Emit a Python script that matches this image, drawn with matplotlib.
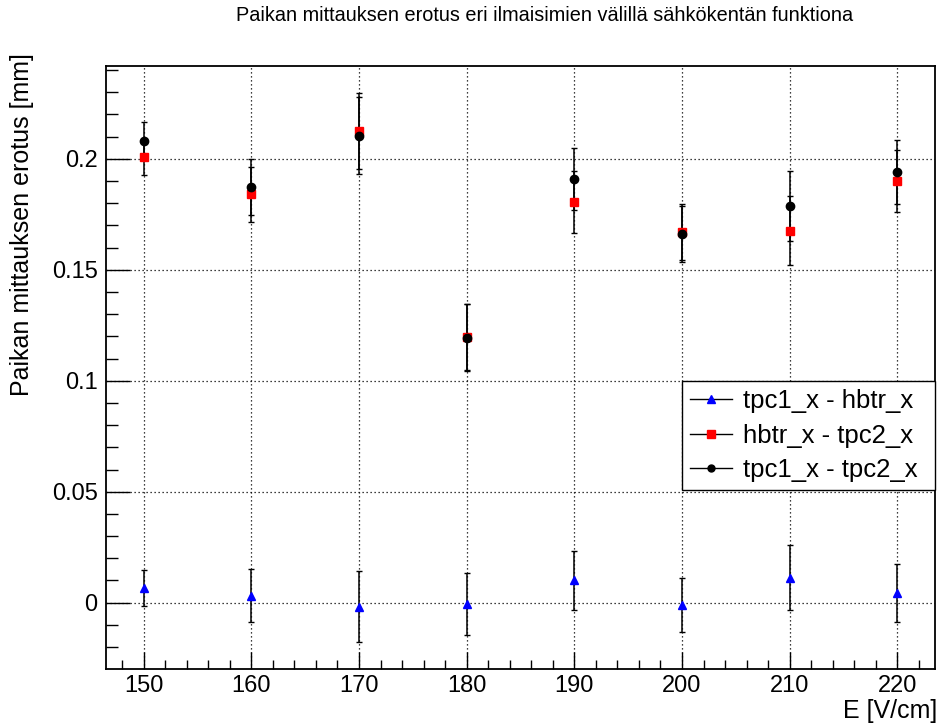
import matplotlib
matplotlib.use('Agg')
import matplotlib.pyplot as plt
from matplotlib.lines import Line2D
from matplotlib.ticker import MultipleLocator, FuncFormatter

plt.rcParams['font.family'] = ['Liberation Sans', 'DejaVu Sans']

# electric field values [V/cm]
E = [150, 160, 170, 180, 190, 200, 210, 220]

# position difference between detectors [mm] and their errors
tpc1_hbtr = [0.0066, 0.0032, -0.0018, -0.0006, 0.0102, -0.0010, 0.0113, 0.0042]
tpc1_hbtr_err = [0.0080, 0.0121, 0.0160, 0.0140, 0.0133, 0.0123, 0.0148, 0.0130]

hbtr_tpc2 = [0.2009, 0.1840, 0.2125, 0.1197, 0.1806, 0.1670, 0.1676, 0.1900]
hbtr_tpc2_err = [0.0082, 0.0124, 0.0172, 0.0150, 0.0139, 0.0127, 0.0156, 0.0140]

tpc1_tpc2 = [0.2080, 0.1873, 0.2105, 0.1194, 0.1909, 0.1662, 0.1788, 0.1941]
tpc1_tpc2_err = [0.0084, 0.0124, 0.0172, 0.0150, 0.0138, 0.0127, 0.0158, 0.0143]

labels = ['tpc1_x - hbtr_x', 'hbtr_x - tpc2_x', 'tpc1_x - tpc2_x']

fig = plt.figure(figsize=(9.42, 7.26), dpi=100)
ax = fig.add_axes([0.1125, 0.0785, 0.8801, 0.8305])

err_kw = dict(fmt='none', ecolor='black', elinewidth=1.1, capsize=2.0, capthick=1.0, zorder=3)
ax.errorbar(E, tpc1_hbtr, yerr=tpc1_hbtr_err, **err_kw)
ax.errorbar(E, hbtr_tpc2, yerr=hbtr_tpc2_err, **err_kw)
ax.errorbar(E, tpc1_tpc2, yerr=tpc1_tpc2_err, **err_kw)
ax.plot(E, tpc1_hbtr, ls='none', marker='^', ms=6, color='blue', mec='blue', zorder=4)
ax.plot(E, hbtr_tpc2, ls='none', marker='s', ms=5.3, color='red', mec='red', zorder=4)
ax.plot(E, tpc1_tpc2, ls='none', marker='o', ms=6, color='black', mec='black', zorder=5)

ax.set_xlim(146.5, 223.5)
ax.set_ylim(-0.0299, 0.2418)

ax.xaxis.set_major_locator(MultipleLocator(10))
ax.xaxis.set_minor_locator(MultipleLocator(2))
ax.yaxis.set_major_locator(MultipleLocator(0.05))
ax.yaxis.set_minor_locator(MultipleLocator(0.01))
ax.yaxis.set_major_formatter(FuncFormatter(lambda v, p: '%g' % round(v, 3)))

ax.tick_params(axis='both', which='both', direction='in', top=False, right=False,
               labelsize=17, width=1.0, color='black')
ax.tick_params(axis='x', which='major', length=12, pad=4.5)
ax.tick_params(axis='x', which='minor', length=6.5)
ax.tick_params(axis='y', which='major', length=17, pad=6)
ax.tick_params(axis='y', which='minor', length=8.5)

for s in ax.spines.values():
    s.set_linewidth(1.3)

ax.grid(True, which='major', color='black', linestyle=(0, (1, 2.2)), linewidth=0.9)
ax.set_axisbelow(True)

handles = [
    Line2D([], [], color='black', lw=1, marker='^', ms=6, mfc='blue', mec='blue'),
    Line2D([], [], color='black', lw=1, marker='s', ms=5.3, mfc='red', mec='red'),
    Line2D([], [], color='black', lw=1, marker='o', ms=5, mfc='black', mec='black'),
]
leg = ax.legend(handles, labels, loc='center left', bbox_to_anchor=(0.695, 0.295, 0.305, 0.184),
                mode='expand', fontsize=18.5, handlelength=1.65, handletextpad=0.4,
                labelspacing=0.42, borderpad=0.3, borderaxespad=0, fancybox=False,
                framealpha=1, edgecolor='black')
leg.get_frame().set_linewidth(1.0)

fig.text(0.578, 0.978, 'Paikan mittauksen erotus eri ilmaisimien välillä sähkökentän funktiona',
         ha='center', va='center', fontsize=14.3)
fig.text(0.0234, 0.927, 'Paikan mittauksen erotus [mm]', rotation=90,
         ha='center', va='top', fontsize=18)
fig.text(0.9947, 0.004, 'E [V/cm]', ha='right', va='bottom', fontsize=18)

fig.savefig('out.png', dpi=100)
